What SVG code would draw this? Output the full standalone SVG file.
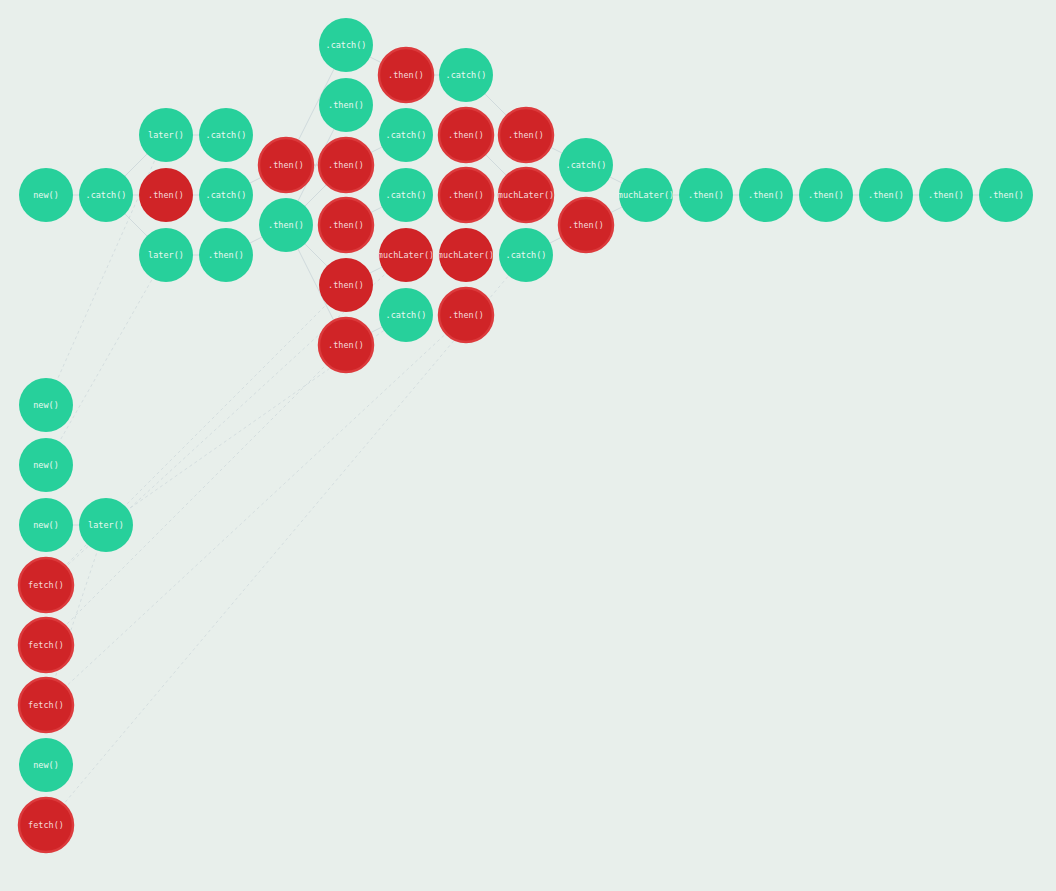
<svg xmlns="http://www.w3.org/2000/svg" width="1056" height="891" viewBox="0 0 1056 891">
<style>
.bg{fill:#e8efeb}
.g circle{fill:#27d09b}
.r circle{fill:#d02427;stroke:#dc3a3c;stroke-width:2.5}
.r.flat circle{stroke:none}
text{font-family:"DejaVu Sans Mono","Liberation Mono",monospace;font-size:8.5px;text-anchor:middle;dominant-baseline:central}
.g text{fill:#e9f8f1}
.r text{fill:#f4dada}
.e line{stroke:#c9d4d8;stroke-width:0.8;fill:none}
.e .d{stroke:#cfd9dc;stroke-dasharray:3 3}
</style>
<rect class="bg" x="0" y="0" width="1056" height="891"/>
<g id="connectors" class="e">
<line x1="46" y1="195" x2="106" y2="195"/>
<line x1="106" y1="195" x2="166" y2="135"/>
<line x1="106" y1="195" x2="166" y2="195"/>
<line x1="106" y1="195" x2="166" y2="255"/>
<line x1="166" y1="135" x2="226" y2="135"/>
<line x1="166" y1="195" x2="226" y2="195"/>
<line x1="166" y1="255" x2="226" y2="255"/>
<line x1="226" y1="195" x2="286" y2="165"/>
<line x1="226" y1="255" x2="286" y2="225"/>
<line x1="286" y1="165" x2="346" y2="45"/>
<line x1="286" y1="225" x2="346" y2="105"/>
<line x1="286" y1="165" x2="346" y2="165"/>
<line x1="286" y1="225" x2="346" y2="165"/>
<line x1="286" y1="225" x2="346" y2="285"/>
<line x1="286" y1="225" x2="346" y2="345"/>
<line x1="346" y1="45" x2="406" y2="75"/>
<line x1="346" y1="165" x2="406" y2="135"/>
<line x1="346" y1="225" x2="406" y2="195"/>
<line x1="346" y1="285" x2="406" y2="255"/>
<line x1="346" y1="345" x2="406" y2="315"/>
<line x1="406" y1="75" x2="466" y2="75"/>
<line x1="466" y1="75" x2="526" y2="135"/>
<line x1="466" y1="135" x2="526" y2="195"/>
<line x1="526" y1="135" x2="586" y2="165"/>
<line x1="526" y1="255" x2="586" y2="225"/>
<line x1="586" y1="165" x2="646" y2="195"/>
<line x1="586" y1="225" x2="646" y2="195"/>
<line x1="646" y1="195" x2="1006" y2="195"/>
<line x1="46" y1="525" x2="106" y2="525"/>
<line class="d" x1="46" y1="405" x2="166" y2="135"/>
<line class="d" x1="46" y1="465" x2="166" y2="255"/>
<line class="d" x1="106" y1="525" x2="346" y2="285"/>
<line class="d" x1="106" y1="525" x2="406" y2="315"/>
<line class="d" x1="106" y1="525" x2="46" y2="705"/>
<line class="d" x1="46" y1="585" x2="106" y2="525"/>
<line class="d" x1="46" y1="645" x2="346" y2="345"/>
<line class="d" x1="46" y1="705" x2="466" y2="315"/>
<line class="d" x1="46" y1="825" x2="526" y2="255"/>
<line class="d" x1="46" y1="585" x2="406" y2="255"/>
</g>
<g id="n1" class="g"><circle cx="46" cy="195" r="27"/><text x="46" y="195">new()</text></g>
<g id="n2" class="g"><circle cx="106" cy="195" r="27"/><text x="106" y="195">.catch()</text></g>
<g id="n3" class="g"><circle cx="166" cy="135" r="27"/><text x="166" y="135">later()</text></g>
<g id="n4" class="r flat"><circle cx="166" cy="195" r="27"/><text x="166" y="195">.then()</text></g>
<g id="n5" class="g"><circle cx="166" cy="255" r="27"/><text x="166" y="255">later()</text></g>
<g id="n6" class="g"><circle cx="226" cy="135" r="27"/><text x="226" y="135">.catch()</text></g>
<g id="n7" class="g"><circle cx="226" cy="195" r="27"/><text x="226" y="195">.catch()</text></g>
<g id="n8" class="g"><circle cx="226" cy="255" r="27"/><text x="226" y="255">.then()</text></g>
<g id="n9" class="r"><circle cx="286" cy="165" r="27"/><text x="286" y="165">.then()</text></g>
<g id="n10" class="g"><circle cx="286" cy="225" r="27"/><text x="286" y="225">.then()</text></g>
<g id="n11" class="g"><circle cx="346" cy="45" r="27"/><text x="346" y="45">.catch()</text></g>
<g id="n12" class="g"><circle cx="346" cy="105" r="27"/><text x="346" y="105">.then()</text></g>
<g id="n13" class="r"><circle cx="346" cy="165" r="27"/><text x="346" y="165">.then()</text></g>
<g id="n14" class="r"><circle cx="346" cy="225" r="27"/><text x="346" y="225">.then()</text></g>
<g id="n15" class="r flat"><circle cx="346" cy="285" r="27"/><text x="346" y="285">.then()</text></g>
<g id="n16" class="r"><circle cx="346" cy="345" r="27"/><text x="346" y="345">.then()</text></g>
<g id="n17" class="r"><circle cx="406" cy="75" r="27"/><text x="406" y="75">.then()</text></g>
<g id="n18" class="g"><circle cx="406" cy="135" r="27"/><text x="406" y="135">.catch()</text></g>
<g id="n19" class="g"><circle cx="406" cy="195" r="27"/><text x="406" y="195">.catch()</text></g>
<g id="n20" class="r flat"><circle cx="406" cy="255" r="27"/><text x="406" y="255">muchLater()</text></g>
<g id="n21" class="g"><circle cx="406" cy="315" r="27"/><text x="406" y="315">.catch()</text></g>
<g id="n22" class="g"><circle cx="466" cy="75" r="27"/><text x="466" y="75">.catch()</text></g>
<g id="n23" class="r"><circle cx="466" cy="135" r="27"/><text x="466" y="135">.then()</text></g>
<g id="n24" class="r"><circle cx="466" cy="195" r="27"/><text x="466" y="195">.then()</text></g>
<g id="n25" class="r flat"><circle cx="466" cy="255" r="27"/><text x="466" y="255">muchLater()</text></g>
<g id="n26" class="r"><circle cx="466" cy="315" r="27"/><text x="466" y="315">.then()</text></g>
<g id="n27" class="r"><circle cx="526" cy="135" r="27"/><text x="526" y="135">.then()</text></g>
<g id="n28" class="r"><circle cx="526" cy="195" r="27"/><text x="526" y="195">muchLater()</text></g>
<g id="n29" class="g"><circle cx="526" cy="255" r="27"/><text x="526" y="255">.catch()</text></g>
<g id="n30" class="g"><circle cx="586" cy="165" r="27"/><text x="586" y="165">.catch()</text></g>
<g id="n31" class="r"><circle cx="586" cy="225" r="27"/><text x="586" y="225">.then()</text></g>
<g id="n32" class="g"><circle cx="646" cy="195" r="27"/><text x="646" y="195">muchLater()</text></g>
<g id="n33" class="g"><circle cx="706" cy="195" r="27"/><text x="706" y="195">.then()</text></g>
<g id="n34" class="g"><circle cx="766" cy="195" r="27"/><text x="766" y="195">.then()</text></g>
<g id="n35" class="g"><circle cx="826" cy="195" r="27"/><text x="826" y="195">.then()</text></g>
<g id="n36" class="g"><circle cx="886" cy="195" r="27"/><text x="886" y="195">.then()</text></g>
<g id="n37" class="g"><circle cx="946" cy="195" r="27"/><text x="946" y="195">.then()</text></g>
<g id="n38" class="g"><circle cx="1006" cy="195" r="27"/><text x="1006" y="195">.then()</text></g>
<g id="n39" class="g"><circle cx="46" cy="405" r="27"/><text x="46" y="405">new()</text></g>
<g id="n40" class="g"><circle cx="46" cy="465" r="27"/><text x="46" y="465">new()</text></g>
<g id="n41" class="g"><circle cx="46" cy="525" r="27"/><text x="46" y="525">new()</text></g>
<g id="n42" class="g"><circle cx="106" cy="525" r="27"/><text x="106" y="525">later()</text></g>
<g id="n43" class="r"><circle cx="46" cy="585" r="27"/><text x="46" y="585">fetch()</text></g>
<g id="n44" class="r"><circle cx="46" cy="645" r="27"/><text x="46" y="645">fetch()</text></g>
<g id="n45" class="r"><circle cx="46" cy="705" r="27"/><text x="46" y="705">fetch()</text></g>
<g id="n46" class="g"><circle cx="46" cy="765" r="27"/><text x="46" y="765">new()</text></g>
<g id="n47" class="r"><circle cx="46" cy="825" r="27"/><text x="46" y="825">fetch()</text></g>
</svg>
